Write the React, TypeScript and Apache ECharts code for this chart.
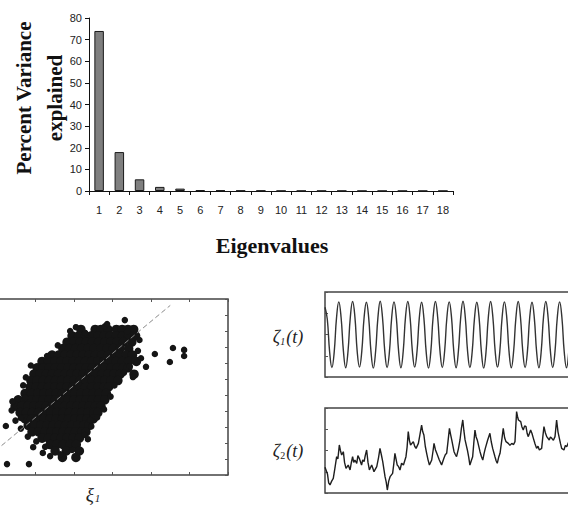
import React, { useEffect, useRef } from "react";
import * as echarts from "echarts";

// ---- Scree plot ----
const eigenCategories = ["1", "2", "3", "4", "5", "6", "7", "8", "9", "10", "11", "12", "13", "14", "15", "16", "17", "18"];
const percentVariance = [74, 18, 5.4, 1.9, 1.1, 0.4, 0.3, 0.2, 0.2, 0.1, 0.1, 0.1, 0.1, 0.05, 0.05, 0.05, 0.05, 0.05];
const percentTicks = { min: 0, max: 80, interval: 10 };

// ---- Scatter of the first component scores: dense rows of the cloud (y, xs) ----
const cloudRows: [number, number[]][] = [
  [2.05, [-0.82, -0.45, -0.3, -0.12, 0.1, 0.25, 0.4, 0.55]],
  [1.85, [-1.05, -0.88, -0.7, -0.55, -0.38, -0.22, -0.06, 0.1, 0.26, 0.42, 0.6]],
  [1.65, [-1.18, -1.0, -0.84, -0.68, -0.52, -0.36, -0.2, -0.04, 0.12, 0.28, 0.5]],
  [1.45, [-1.29, -1.12, -0.96, -0.8, -0.64, -0.48, -0.3, -0.14, 0.02, 0.2, 0.42]],
  [1.25, [-1.57, -1.4, -1.24, -1.08, -0.92, -0.76, -0.6, -0.44, -0.28, -0.12, 0.04, 0.2, 0.36, 0.52]],
  [1.05, [-1.83, -1.66, -1.5, -1.34, -1.18, -1.02, -0.86, -0.7, -0.54, -0.38, -0.22, -0.06, 0.1, 0.26, 0.42, 0.62]],
  [0.85, [-1.96, -1.8, -1.64, -1.48, -1.32, -1.16, -1.0, -0.84, -0.68, -0.52, -0.36, -0.2, -0.04, 0.12, 0.28, 0.4]],
  [0.65, [-2.04, -1.88, -1.72, -1.56, -1.4, -1.24, -1.08, -0.92, -0.76, -0.6, -0.44, -0.28, -0.12, 0.04, 0.2, 0.56]],
  [0.45, [-2.12, -1.96, -1.8, -1.64, -1.48, -1.32, -1.16, -1.0, -0.84, -0.68, -0.52, -0.36, -0.2, -0.04, 0.14]],
  [0.25, [-2.14, -1.98, -1.82, -1.66, -1.5, -1.34, -1.18, -1.02, -0.86, -0.7, -0.54, -0.38, -0.22, -0.1]],
  [0.05, [-2.27, -2.1, -1.94, -1.78, -1.62, -1.46, -1.3, -1.14, -0.98, -0.82, -0.66, -0.5, -0.34, -0.16]],
  [-0.15, [-2.45, -2.28, -2.12, -1.96, -1.8, -1.64, -1.48, -1.32, -1.16, -1.0, -0.84, -0.68, -0.52, -0.36, -0.2]],
  [-0.35, [-2.53, -2.36, -2.2, -2.04, -1.88, -1.72, -1.56, -1.4, -1.24, -1.08, -0.92, -0.76, -0.6, -0.44, -0.3]],
  [-0.55, [-2.4, -2.24, -2.08, -1.92, -1.76, -1.6, -1.44, -1.28, -1.12, -0.96, -0.8, -0.64, -0.48, -0.38]],
  [-0.75, [-2.27, -2.1, -1.94, -1.78, -1.62, -1.46, -1.3, -1.14, -0.98, -0.82, -0.66, -0.5]],
  [-0.95, [-2.19, -2.02, -1.86, -1.7, -1.54, -1.38, -1.22, -1.06, -0.9, -0.74, -0.61]],
  [-1.15, [-2.09, -1.92, -1.76, -1.6, -1.44, -1.28, -1.12, -0.96, -0.8, -0.69]],
  [-1.35, [-1.83, -1.66, -1.5, -1.34, -1.18, -1.02, -0.86]],
  [-1.55, [-1.62, -1.45, -1.28, -1.1, -0.94]],
  [-1.75, [-1.49, -1.2, -0.86]],
  [-1.95, [-1.3, -0.95]],
];
// scattered points around the rim of the cloud
const cloudFringe: [number, number][] = [
  [-0.95, 2.12], [-0.2, 2.15], [0.38, 1.98], [0.7, 1.72], [0.66, 1.38], [0.74, 1.15],
  [-1.42, 1.55], [-1.7, 1.22], [-2.12, 0.92], [-2.25, 0.55], [-2.32, 0.3], [-2.6, -0.2],
  [-2.62, -0.48], [-2.52, -0.8], [-2.38, -1.05], [-2.2, -1.3], [-1.98, -1.45], [-1.75, -1.62],
  [-0.72, -1.25], [-0.55, -0.98], [-0.4, -0.7], [-0.22, -0.45], [-0.05, -0.05], [0.05, 0.3],
  [0.3, 0.7], [0.45, 0.9], [-1.05, -1.72], [-1.35, -1.85],
];
const cloudOutliers: [number, number][] = [
  [-2.77, -0.97], [-2.74, -2.16], [-2.17, -2.16], [-2.06, -1.63], [-1.81, -1.81],
  [-1.62, -1.91], [-0.92, -1.97], [-0.64, -1.38], [1.1, 1.28], [1.57, 1.47],
  [1.49, 1.03], [1.86, 1.41], [1.86, 1.22], [0.87, 0.88], [0.64, 1.03],
  [0.53, 0.56], [0.32, 2.34], [-0.14, 2.22], [-2.27, -0.09], [-2.38, -0.72],
  [-0.58, -0.78], [-1.1, 2.0], [-0.71, 1.94],
];
const fitLine: [number, number][] = [[-4, -2.7], [1.5, 2.8]];

// ---- Component time series ----
const zeta1 = [
  0.8, 0.45, -0.5, -0.97, -0.52, 0.48,
  0.96, 0.5, -0.48, -0.98, -0.5, 0.5,
  0.97, 0.52, -0.5, -0.96, -0.49, 0.5,
  0.95, 0.49, -0.51, -0.99, -0.5, 0.49,
  0.98, 0.5, -0.5, -0.97, -0.52, 0.5,
  0.96, 0.51, -0.49, -0.98, -0.5, 0.51,
  0.97, 0.5, -0.5, -0.96, -0.5, 0.49,
  0.95, 0.48, -0.52, -0.99, -0.51, 0.5,
  0.97, 0.5, -0.49, -0.97, -0.5, 0.5,
  0.96, 0.51, -0.5, -0.98, -0.49, 0.5,
  0.98, 0.5, -0.5, -0.97, -0.5, 0.48,
  0.95, 0.49, -0.51, -0.99, -0.52, 0.5,
  0.97, 0.5, -0.5, -0.96, -0.5, 0.5,
  0.96, 0.52, -0.49, -0.98, -0.5, 0.49,
  0.97, 0.5, -0.5, -0.97, -0.51, 0.5,
  0.95, 0.49, -0.5, -0.98, -0.5, 0.51,
  0.97, 0.5, -0.49, -0.97, -0.5, 0.5,
  0.96, 0.5, -0.5, -0.98, -0.5, 0.5,
  0.97, 0.5, -0.5, -0.97, -0.5, 0.5,
  0.96, 0.5, -0.5, -0.98, -0.5, 0.5,
  0.97,
];
const zeta2: [number, number][] = [
  [0, 3.02], [0.6, 2.6], [1.1, 2.2], [1.6, 1.2], [2.17, 0.94], [2.9, 1.4], [3.6, 1.73], [4.3, 2.9],
  [5.07, 4.27], [5.6, 4.0], [6.23, 5.65], [6.7, 5.0], [7.25, 4.47], [7.97, 4.86], [8.5, 3.6],
  [9.13, 2.9], [10.1, 3.29], [10.9, 2.71], [11.4, 3.5], [12.0, 4.27], [12.5, 3.6], [13.0, 3.88],
  [13.8, 3.49], [14.3, 4.4], [14.9, 4.08], [15.9, 3.29], [16.4, 3.9], [17.0, 3.69], [17.5, 4.4],
  [18.1, 5.06], [18.7, 3.6], [19.3, 2.71], [20.3, 3.29], [20.8, 2.9], [21.3, 2.51], [22.5, 3.1],
  [23.3, 4.2], [23.9, 5.25], [24.5, 4.5], [25.1, 3.69], [26.1, 1.92], [26.6, 1.3], [27.1, 0.35],
  [27.7, 1.4], [28.3, 1.92], [29.4, 2.31], [29.9, 3.4], [30.4, 4.67], [31.4, 3.29], [32.0, 3.1],
  [32.6, 2.71], [33.3, 3.5], [34.1, 3.29], [35.2, 4.27], [35.7, 5.4], [36.2, 7.22], [36.7, 6.2],
  [37.2, 5.65], [38.4, 6.04], [39.0, 5.5], [39.6, 5.25], [40.6, 5.84], [41.3, 6.9], [42.0, 8.0],
  [42.5, 7.2], [43.0, 6.82], [43.6, 5.5], [44.2, 4.67], [44.8, 3.9], [45.4, 3.29], [46.4, 3.88],
  [47.0, 5.0], [47.4, 5.84], [48.0, 5.1], [48.6, 4.67], [49.7, 3.88], [50.2, 3.6], [50.7, 3.29],
  [51.7, 4.08], [52.3, 4.5], [52.9, 4.67], [53.5, 6.1], [54.1, 7.61], [54.6, 6.9], [55.1, 6.24],
  [56.1, 4.86], [56.7, 4.5], [57.2, 4.27], [58.0, 5.2], [58.7, 6.24], [59.3, 7.6], [59.9, 8.59],
  [60.4, 7.3], [60.9, 6.24], [61.9, 5.06], [62.5, 4.2], [63.0, 3.29], [63.6, 3.8], [64.2, 4.27],
  [64.7, 5.9], [65.2, 7.41], [65.7, 6.6], [66.2, 6.24], [67.4, 4.86], [68.0, 4.3], [68.6, 3.88],
  [69.2, 4.7], [69.7, 5.25], [70.7, 6.2], [71.7, 7.02], [72.3, 6.0], [72.9, 5.25], [73.9, 4.27],
  [74.4, 3.8], [74.9, 3.49], [75.5, 4.2], [76.1, 4.67], [76.8, 6.1], [77.5, 7.61], [78.1, 6.5],
  [78.7, 6.04], [79.7, 5.84], [80.4, 5.6], [81.2, 5.84], [82.0, 5.7], [82.6, 6.04], [83.3, 9.57],
  [83.7, 9.0], [84.1, 8.59], [85.1, 8.39], [85.6, 7.8], [86.2, 7.41], [86.8, 7.9], [87.4, 7.8],
  [87.9, 7.0], [88.4, 6.63], [89.4, 7.41], [90.0, 7.0], [90.6, 6.43], [91.3, 5.8], [92.0, 5.25],
  [92.6, 5.5], [93.2, 5.06], [94.2, 5.25], [94.7, 6.6], [95.2, 7.8], [95.8, 7.1], [96.4, 6.63],
  [97.5, 6.24], [98.0, 6.6], [98.6, 6.43], [99.3, 6.2], [100.0, 6.63], [100.7, 8.59], [101.3, 7.2],
  [101.9, 6.43], [102.4, 5.8], [102.9, 5.25], [103.9, 5.06], [104.5, 5.6], [105.1, 5.45], [105.8, 5.9],
  [106.5, 6.1], [107.0, 7.0], [107.6, 7.6], [108.2, 6.6], [108.8, 5.9], [109.4, 5.5], [110.0, 5.2],
  [110.8, 5.9], [111.5, 6.4], [112.2, 5.9], [113.0, 5.6],
];

const SERIF = "'Liberation Serif', 'DejaVu Serif', serif";
const SANS = "'Liberation Sans', Arial, sans-serif";
// the drawing surface starts left of the page so the scatter frame's left side falls outside it
const SHIFT = 42;

export default function App() {
  const ref = useRef<HTMLDivElement>(null);

  useEffect(() => {
    if (!ref.current) return;
    const chart = echarts.init(ref.current, undefined, { renderer: "svg" });

    const cloudCore: [number, number][] = [];
    cloudRows.forEach(([y, xs]) => xs.forEach((x) => cloudCore.push([x, y])));

    const frame = { show: true, borderColor: "#444", borderWidth: 1.5, backgroundColor: "transparent" };
    const innerTick = { show: true, inside: true, length: 3, lineStyle: { color: "#555", width: 1 } };
    const hiddenAxis = {
      axisLine: { show: false, onZero: false },
      axisLabel: { show: false },
      splitLine: { show: false },
    };

    chart.setOption({
      animation: false,
      backgroundColor: "#fff",
      grid: [
        { left: 89 + SHIFT, top: 18, width: 364, height: 173 },
        { left: SHIFT - 41.5, top: 299, width: 269.5, height: 176, ...frame },
        { left: 325 + SHIFT, top: 292, width: 276, height: 85, ...frame },
        { left: 325 + SHIFT, top: 408, width: 276, height: 85, ...frame },
      ],
      xAxis: [
        {
          type: "category",
          gridIndex: 0,
          data: eigenCategories,
          axisLine: { lineStyle: { color: "#111", width: 1 } },
          axisTick: { show: true, length: 4, lineStyle: { color: "#111" } },
          axisLabel: { color: "#222", fontFamily: SANS, fontSize: 11, margin: 13 },
          splitLine: { show: false },
        },
        { type: "value", gridIndex: 1, min: -4, max: 3, interval: 1, position: "bottom", axisTick: innerTick, ...hiddenAxis },
        { type: "value", gridIndex: 1, min: -4, max: 3, interval: 1, position: "top", axisTick: innerTick, ...hiddenAxis },
        { type: "value", gridIndex: 2, min: 0, max: 120, axisTick: { show: false }, ...hiddenAxis },
        { type: "value", gridIndex: 3, min: 0, max: 120, axisTick: { show: false }, ...hiddenAxis },
      ],
      yAxis: [
        {
          type: "value",
          gridIndex: 0,
          min: percentTicks.min,
          max: percentTicks.max,
          interval: percentTicks.interval,
          axisLine: { show: true, lineStyle: { color: "#111", width: 1 } },
          axisTick: { show: true, length: 4, lineStyle: { color: "#111" } },
          axisLabel: { color: "#222", fontFamily: SANS, fontSize: 11, margin: 7 },
          splitLine: { show: false },
        },
        { type: "value", gridIndex: 1, min: -2.5, max: 3, interval: 0.5, position: "left", axisTick: innerTick, ...hiddenAxis },
        { type: "value", gridIndex: 1, min: -2.5, max: 3, interval: 0.5, position: "right", axisTick: innerTick, ...hiddenAxis },
        { type: "value", gridIndex: 2, min: -1.25, max: 1.25, interval: 0.625, position: "left", axisTick: innerTick, ...hiddenAxis },
        { type: "value", gridIndex: 3, min: 0, max: 10, interval: 2.5, position: "left", axisTick: innerTick, ...hiddenAxis },
      ],
      series: [
        {
          type: "bar",
          xAxisIndex: 0,
          yAxisIndex: 0,
          data: percentVariance,
          barWidth: 9.5,
          itemStyle: { color: "#7f7f7f", borderColor: "#1a1a1a", borderWidth: 1 },
        },
        {
          type: "scatter",
          xAxisIndex: 1,
          yAxisIndex: 1,
          data: cloudCore,
          symbolSize: 9.5,
          itemStyle: { color: "#151515", opacity: 1 },
          z: 2,
        },
        {
          type: "scatter",
          xAxisIndex: 1,
          yAxisIndex: 1,
          data: cloudFringe.concat(cloudOutliers),
          symbolSize: 6.5,
          itemStyle: { color: "#151515", opacity: 1 },
          z: 2,
        },
        {
          type: "line",
          xAxisIndex: 1,
          yAxisIndex: 1,
          data: fitLine,
          symbol: "none",
          lineStyle: { color: "#8a8a8a", width: 1, type: [5, 3] },
          z: 3,
        },
        {
          type: "line",
          xAxisIndex: 3,
          yAxisIndex: 3,
          data: zeta1.map((v, i) => [i, v]),
          symbol: "none",
          smooth: 0.45,
          lineStyle: { color: "#333", width: 1.4 },
        },
        {
          type: "line",
          xAxisIndex: 4,
          yAxisIndex: 4,
          data: zeta2,
          symbol: "none",
          lineStyle: { color: "#1e1e1e", width: 1.4 },
        },
      ],
      graphic: [
        {
          type: "text",
          x: 24 + SHIFT,
          y: 98,
          rotation: Math.PI / 2,
          style: {
            text: "Percent Variance",
            fontFamily: SERIF,
            fontWeight: "bold",
            fontSize: 21,
            fill: "#111",
            align: "center",
            verticalAlign: "middle",
          },
        },
        {
          type: "text",
          x: 55 + SHIFT,
          y: 98,
          rotation: Math.PI / 2,
          style: {
            text: "explained",
            fontFamily: SERIF,
            fontWeight: "bold",
            fontSize: 21,
            fill: "#111",
            align: "center",
            verticalAlign: "middle",
          },
        },
        {
          type: "text",
          x: 272 + SHIFT,
          y: 245,
          style: {
            text: "Eigenvalues",
            fontFamily: SERIF,
            fontWeight: "bold",
            fontSize: 22,
            fill: "#111",
            align: "center",
            verticalAlign: "middle",
          },
        },
        {
          type: "text",
          x: 93 + SHIFT,
          y: 494,
          style: {
            text: "{g|ξ}{s|1}",
            align: "center",
            verticalAlign: "middle",
            rich: {
              g: { fontFamily: SERIF, fontStyle: "italic", fontSize: 19, fill: "#222" },
              s: { fontFamily: SERIF, fontStyle: "italic", fontSize: 11, fill: "#222", padding: [8, 0, 0, 1] },
            },
          },
        },
        {
          type: "text",
          x: 288 + SHIFT,
          y: 337,
          style: {
            text: "{g|ζ}{s|1}{g|(t)}",
            align: "center",
            verticalAlign: "middle",
            rich: {
              g: { fontFamily: SERIF, fontStyle: "italic", fontSize: 18, fill: "#222" },
              s: { fontFamily: SERIF, fontStyle: "italic", fontSize: 10, fill: "#222", padding: [8, 1, 0, 0] },
            },
          },
        },
        {
          type: "text",
          x: 288 + SHIFT,
          y: 451,
          style: {
            text: "{g|ζ}{s|2}{g|(t)}",
            align: "center",
            verticalAlign: "middle",
            rich: {
              g: { fontFamily: SERIF, fontStyle: "italic", fontSize: 18, fill: "#222" },
              s: { fontFamily: SERIF, fontStyle: "normal", fontSize: 10, fill: "#222", padding: [8, 1, 0, 0] },
            },
          },
        },
      ],
    });

    return () => chart.dispose();
  }, []);

  return (
    <div
      ref={ref}
      style={{ position: "fixed", left: -SHIFT, top: 0, width: 568 + SHIFT + 40, height: 506, background: "#fff" }}
    />
  );
}
